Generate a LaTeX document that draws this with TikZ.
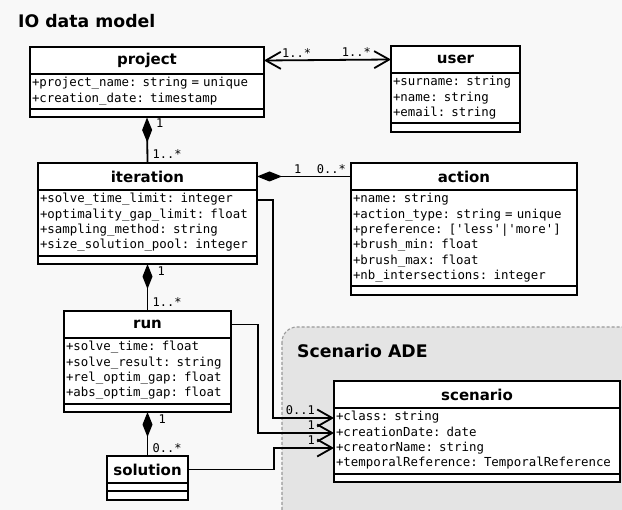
\documentclass[tikz,border=0pt]{standalone}
\usepackage{fontspec}
\setmainfont{DejaVu Sans}
\setmonofont{DejaVu Sans Mono}
\usetikzlibrary{arrows.meta,positioning}

\definecolor{pagebg}{HTML}{F8F8F8}
\definecolor{adefill}{HTML}{E4E4E4}
\definecolor{adeline}{HTML}{9A9A9A}

\newcommand{\titlefont}{\fontsize{17.3}{20}\selectfont\bfseries}
\newcommand{\headfont}{\fontsize{15}{18}\selectfont\bfseries}
\newcommand{\attrfont}{\fontsize{12.4}{15.3}\selectfont\ttfamily}
\newcommand{\multfont}{\fontsize{12}{13}\selectfont\ttfamily}

\tikzset{
	barb/.tip={Straight Barb[length=15pt,width=17pt]},
	diam/.tip={Diamond[length=25pt,width=10pt]}}

\begin{document}
\begin{tikzpicture}[x=1pt,y=-1pt]
		\tikzstyle{box}=[draw, fill=white, line width=2pt, outer sep=0pt,
						inner xsep=2pt, anchor=north west]
		\tikzstyle{head}=[box, font=\headfont, align=center,
						minimum height=27pt, inner ysep=0pt]
		\tikzstyle{attr}=[box, font=\attrfont, align=left, inner ysep=2.2pt,
						execute at begin node=\strut, execute at end node=\strut]
		\tikzstyle{ops}=[box, minimum height=8.5pt, inner ysep=0pt]
		\tikzstyle{link}=[line width=1.8pt]
		\tikzstyle{mult}=[font=\multfont, inner sep=1pt]

		% page and package area
		\fill[pagebg] (0,0) rectangle (622,510);
		\useasboundingbox (0,0) rectangle (622,510);
		\begin{scope}
			\clip (0,0) rectangle (622,510);
			\draw[adeline, fill=adefill, line width=1.1pt, dash pattern=on 3pt off 2pt,
				rounded corners=15pt] (282,327) rectangle (650,540);
		\end{scope}

		% titles
		\node[font=\titlefont, anchor=base west, inner sep=0pt] (iotitle) at (18,28) {IO data model};
		\node[font=\titlefont, anchor=base west, inner sep=0pt] (adetitle) at (297,358) {Scenario ADE};

		% classes
		\foreach \name/\x/\y/\w/\attrs in {
			project/30/47/230/{+project\_name: string = unique\\+creation\_date: timestamp},
			user/391/46/125/{+surname: string\\+name: string\\+email: string},
			iteration/38/163/215/{+solve\_time\_limit: integer\\+optimality\_gap\_limit: float\\+sampling\_method: string\\+size\_solution\_pool: integer},
			action/351/163/222/{+name: string\\+action\_type: string = unique\\+preference: ['less'|'more']\\+brush\_min: float\\+brush\_max: float\\+nb\_intersections: integer},
			run/64/311/163/{+solve\_time: float\\+solve\_result: string\\+rel\_optim\_gap: float\\+abs\_optim\_gap: float},
			scenario/334/381/282/{+class: string\\+creationDate: date\\+creatorName: string\\+temporalReference: TemporalReference}}
		{
			\node[head, text width=\w pt] (\name) at (\x,\y) {\name};
			\node[attr, text width=\w pt] (\name-attr) at (\name.south west) {\attrs};
			\node[ops, text width=\w pt] (\name-ops) at (\name-attr.south west) {};
		}

		% solution has no attributes
		\node[head, text width=77pt] (solution) at (107,456) {solution};
		\node[ops, text width=77pt] (solution-attr) at (solution.south west) {};
		\node[ops, text width=77pt] (solution-ops) at (solution-attr.south west) {};

		% associations
		\draw[link, barb-barb] (project.east) -- (user.west);
		\node[mult, anchor=south west] (pu1) at ([xshift=17pt,yshift=2pt]project.east) {1..*};
		\node[mult, anchor=south east] (pu2) at ([xshift=-19pt,yshift=2pt]user.west) {1..*};

		% compositions
		\draw[link, diam-] (project-ops.south) -- (iteration.north);
		\node[mult, anchor=west] (pi1) at ([xshift=8pt,yshift=-6pt]project-ops.south) {1};
		\node[mult, anchor=west] (pi2) at ([xshift=4pt,yshift=9pt]iteration.north) {1..*};

		\draw[link, diam-] (iteration.east) -- (action.west);
		\node[mult, anchor=south west] (ia1) at ([xshift=36pt,yshift=2pt]iteration.east) {1};
		\node[mult, anchor=south east] (ia2) at ([xshift=-4pt,yshift=2pt]action.west) {0..*};

		\draw[link, diam-] (iteration-ops.south) -- (run.north);
		\node[mult, anchor=west] (ir1) at ([xshift=9pt,yshift=-7pt]iteration-ops.south) {1};
		\node[mult, anchor=west] (ir2) at ([xshift=4pt,yshift=9pt]run.north) {1..*};

		\draw[link, diam-] (run-ops.south) -- (solution.north);
		\node[mult, anchor=west] (rs1) at ([xshift=10pt,yshift=-7pt]run-ops.south) {1};
		\node[mult, anchor=west] (rs2) at ([xshift=4pt,yshift=8pt]solution.north) {0..*};

		% links into the scenario package
		\draw[link, -barb] ([yshift=-10pt]iteration-attr.north east) -- ++(16,0)
			|- ([yshift=-10pt]scenario-attr.north west);
		\draw[link, -barb] (run.east) -- ++(27,0)
			|- ([yshift=-25pt]scenario-attr.north west);
		\draw[link, -barb] (solution.east) -- ++(86,0)
			|- ([yshift=-40pt]scenario-attr.north west);
		\node[mult, anchor=south east] (is1) at ([xshift=-18pt,yshift=-8pt]scenario-attr.north west) {0..1};
		\node[mult, anchor=south east] (rs3) at ([xshift=-18pt,yshift=-23pt]scenario-attr.north west) {1};
		\node[mult, anchor=south east] (ss1) at ([xshift=-18pt,yshift=-38pt]scenario-attr.north west) {1};
	\end{tikzpicture}
\end{document}
